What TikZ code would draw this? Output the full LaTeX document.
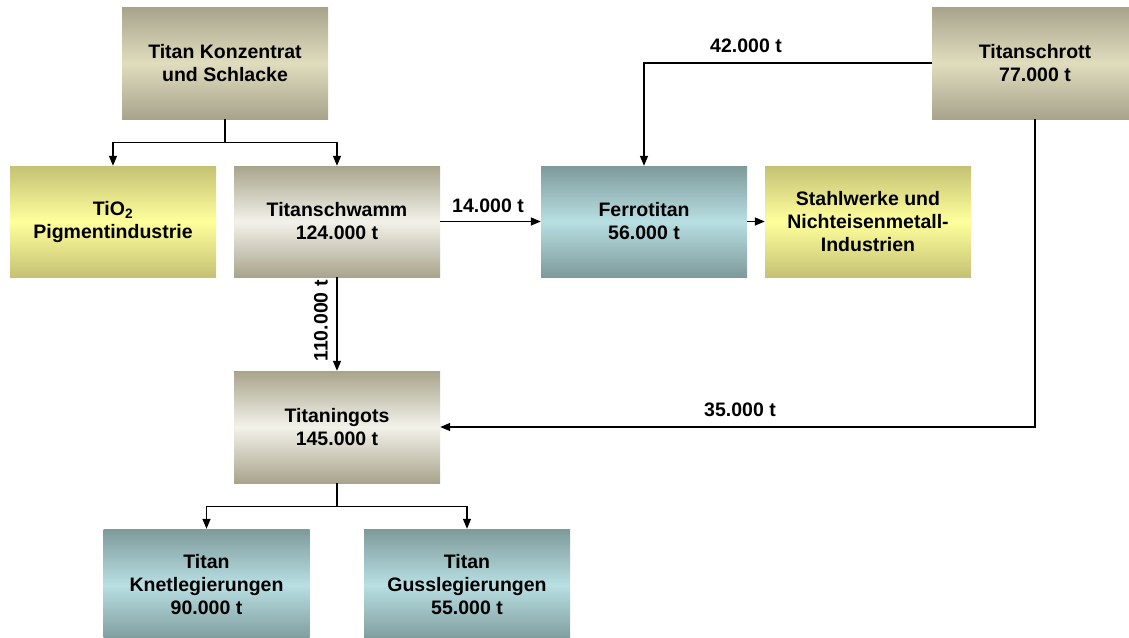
\documentclass[tikz,border=0pt]{standalone}
\usepackage{fontspec}
\setmainfont{Liberation Sans}
\usetikzlibrary{arrows.meta}
\definecolor{grayedge}{HTML}{A8A48C}
\definecolor{graymid}{HTML}{E0DCBE}
\definecolor{graylight}{HTML}{F3F2EA}
\definecolor{yeledge}{HTML}{C5C274}
\definecolor{yelmid}{HTML}{FFFF9C}
\definecolor{tealedge}{HTML}{7E9A9B}
\definecolor{tealmid}{HTML}{B8DFE2}
\tikzset{
  box/.style={minimum width=206pt, minimum height=112pt, inner sep=0pt, align=center,
    font=\fontsize{19.5}{23}\selectfont\bfseries, text=black},
  beige/.style={box, top color=grayedge, bottom color=grayedge, middle color=graymid},
  silver/.style={box, top color=grayedge, bottom color=grayedge, middle color=graylight},
  yellowbox/.style={box, top color=yeledge, bottom color=yeledge, middle color=yelmid},
  tealbox/.style={box, top color=tealedge, bottom color=tealedge, middle color=tealmid},
  arr/.style={line width=1.4pt, -{Triangle[width=8pt,length=10pt]}},
  ln/.style={line width=1.4pt},
  lbl/.style={font=\fontsize{19.5}{23}\selectfont\bfseries, inner sep=0pt}
}
\begin{document}
\begin{tikzpicture}[x=1pt,y=-1pt]
\path[use as bounding box, fill=white] (0,0) rectangle (1129,637);
\clip (0,0) rectangle (1129,637);
\node[beige] (konz) at (225,63) {Titan Konzentrat\\und Schlacke};
\node[yellowbox, minimum height=111pt] (tio2) at (113,221.5) {TiO\textsubscript{2}\\Pigmentindustrie};
\node[silver, minimum height=111pt] (schwamm) at (337,221.5) {Titanschwamm\\124.000 t};
\node[tealbox, minimum height=111pt] (ferro) at (644,221.5) {Ferrotitan\\56.000 t};
\node[yellowbox, minimum height=111pt] (stahl) at (868,221.5) {Stahlwerke und\\Nichteisenmetall-\\Industrien};
\node[beige] (schrott) at (1035,63) {Titanschrott\\77.000 t};
\node[silver] (ingots) at (337,427) {Titaningots\\145.000 t};
\node[tealbox, minimum height=112pt] (knet) at (206.5,585) {Titan\\Knetlegierungen\\90.000 t};
\node[tealbox, minimum height=112pt] (guss) at (467,585) {Titan\\Gusslegierungen\\55.000 t};

\coordinate (kj) at ([yshift=-23pt]konz.south);
\draw[ln] (konz.south) -- (kj);
\draw[arr] (kj) -| (tio2.north);
\draw[arr] (kj) -| (schwamm.north);

\draw[arr] (schwamm.east) -- (ferro.west);
\node[lbl] (l14) at (488,206) {14.000 t};

\draw[arr] (schwamm.south) -- (ingots.north);
\node[lbl, rotate=90] (l110) at (321,321) {110.000 t};

\draw[arr] (ferro.east) -- (stahl.west);

\draw[arr] (schrott.west) -| (ferro.north);
\node[lbl] (l42) at (746,46) {42.000 t};

\draw[arr] (schrott.south) |- (ingots.east);
\node[lbl] (l35) at (740,410) {35.000 t};

\coordinate (ij) at ([yshift=-23pt]ingots.south);
\draw[ln] (ingots.south) -- (ij);
\draw[arr] (ij) -| (knet.north);
\draw[arr] (ij) -| (guss.north);
\end{tikzpicture}
\end{document}
